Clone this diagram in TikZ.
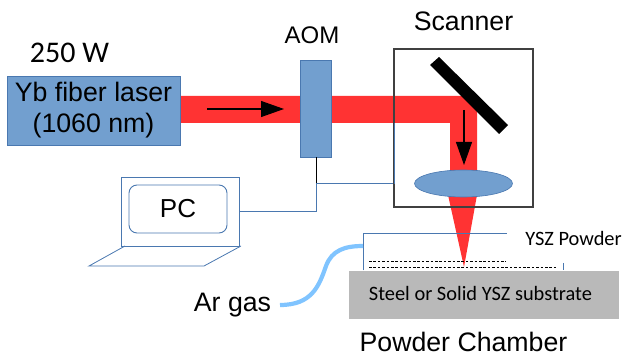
\documentclass[tikz,border=0pt]{standalone}
\usepackage{fontspec}
\setmainfont{Liberation Sans}
\newfontfamily\calibrifont{Carlito}
\usetikzlibrary{arrows.meta, shapes.geometric}
\definecolor{boxblue}{HTML}{729FCF}
\definecolor{edgeblue}{HTML}{4A78B0}
\definecolor{beamred}{HTML}{FF3333}
\definecolor{tubeblue}{HTML}{80C4FF}
\definecolor{slabgray}{HTML}{B9B9B9}
\tikzset{
	bluebox/.style={draw=edgeblue, fill=boxblue, line width=0.9pt, inner sep=0pt},
	wire/.style={draw=edgeblue, line width=1pt},
	bigtip/.style={-{Triangle[length=23pt,width=16pt]}, line width=1.1pt},
	sanslabel/.style={font=\fontsize{26.7}{31}\selectfont, inner sep=0pt, anchor=base},
	calilabel/.style={font=\calibrifont\fontsize{20.4}{24}\selectfont, inner sep=0pt, anchor=base},
	dotrow/.style={black, dashed, line width=0.8pt, dash pattern=on 2.6pt off 1.8pt}
}
\begin{document}
\begin{tikzpicture}[x=1pt, y=-1pt]
	\useasboundingbox (0,0) rectangle (624,358);

	% 1. laser beam, lowest layer
	\fill[beamred] (180,96) -- (477,96) -- (477,172) -- (450,172) -- (450,123) -- (180,123) -- cycle;
	\fill[beamred] (448,195) -- (477,195) -- (464,267) -- cycle;

	% 2. laser, modulator and scanner
	\node[bluebox, minimum width=173pt, minimum height=69pt, align=center,
		font=\fontsize{26.7}{31}\selectfont] (laser) at (93.5,110.5) {Yb fiber laser\\(1060 nm)};
	\node[bluebox, minimum width=31pt, minimum height=97pt] (aom) at (315.5,108.5) {};
	\node[draw=black!75, line width=1.1pt, minimum width=139pt, minimum height=158pt, inner sep=0pt] (scanner) at (463.5,128) {};
	\fill[black] (430,65) -- (439,57) -- (508,125) -- (499,134) -- cycle;
	\node[draw=edgeblue, fill=boxblue, ellipse, line width=0.6pt, minimum width=98pt, minimum height=27pt, inner sep=0pt] (lens) at (463.5,183.5) {};

	% 3. beam direction
	\coordinate (beamstart) at (207,109);
	\coordinate (beamend) at (284,109);
	\coordinate (foldstart) at (464,110);
	\coordinate (foldend) at (464,165);
	\draw[bigtip] (beamstart) -- (beamend);
	\draw[bigtip] (foldstart) -- (foldend);

	% 4. PC and its wires
	\node[draw=edgeblue, line width=0.9pt, minimum width=118pt, minimum height=69pt, inner sep=0pt] (screen) at (180,211.5) {};
	\node[draw=edgeblue, line width=0.9pt, rounded corners=8pt, minimum width=98pt, minimum height=48pt,
		inner sep=0pt, font=\fontsize{26}{30}\selectfont] (pc) at (178,209) {PC};
	\draw[wire, line width=0.8pt] (125,246) -- (89,266) -- (204,266) -- (241,246);
	\coordinate (wirejoin) at (316,184);
	\draw[black, line width=1pt] (aom.south -| wirejoin) -- (wirejoin);
	\draw[wire] (wirejoin) -- (wirejoin -| scanner.west);
	\draw[wire] (wirejoin) |- (screen.east);
	\draw[wire] (394,123) -- (394,184);

	% 5. powder chamber
	\node[fill=slabgray, minimum width=270pt, minimum height=48pt, inner sep=0pt] (substrate) at (484,295) {};
	\draw[wire] (363,270.5) -- (363,234) -- (507,234);
	\draw[wire] (563,263) -- (563,270.5);
	\draw[dotrow] (369,261) -- (506,261);
	\draw[dotrow] (369,267) -- (557,267);
	\coordinate (gasin) at (363,246);
	\coordinate (gasout) at (280,305);
	\draw[tubeblue, line width=4.2pt] (gasout) .. controls (312,305) and (319,286) .. (326,266) .. controls (332,250) and (345,246) .. (gasin);

	% 6. labels
	\node[calilabel, font=\calibrifont\fontsize{30}{34}\selectfont] (power) at (69.5,63) {250 W};
	\node[sanslabel, font=\fontsize{24}{28}\selectfont] (aomlabel) at (312,44) {AOM};
	\node[sanslabel] (scannerlabel) at (463.5,31) {Scanner};
	\node[sanslabel] (gaslabel) at (232.5,311) {Ar gas};
	\node[sanslabel] (chamberlabel) at (463.5,351) {Powder Chamber};
	\node[calilabel] (powderlabel) at (573.5,246) {YSZ Powder};
	\node[calilabel] (substratelabel) at (480.5,301) {Steel or Solid YSZ substrate};
\end{tikzpicture}
\end{document}
